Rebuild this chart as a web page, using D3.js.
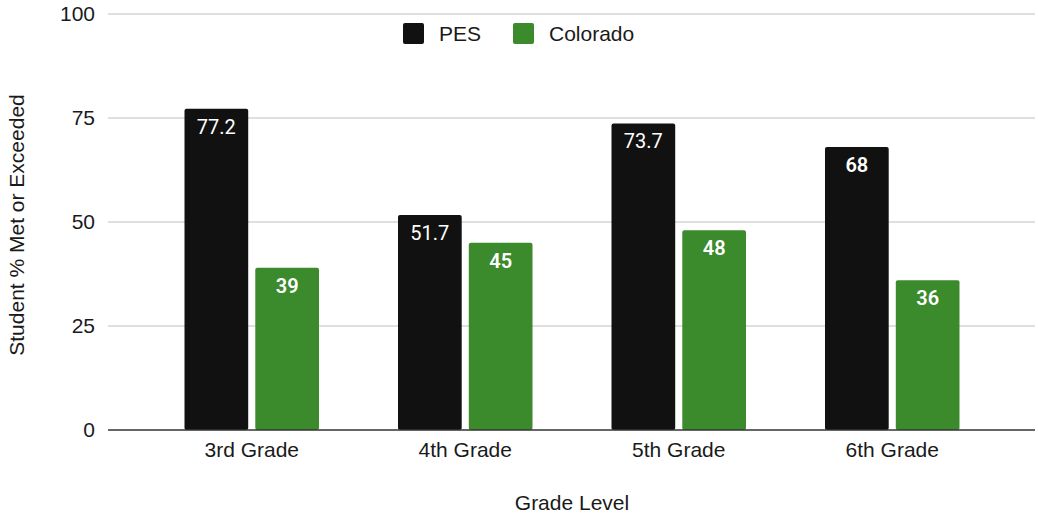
<!DOCTYPE html>
<html>
<head>
<meta charset="utf-8">
<script src="https://cdn.jsdelivr.net/npm/d3@7"></script>
<style>
  body { margin: 0; background: #fff; }
  text { font-family: "Liberation Sans", Arial, sans-serif; }
</style>
</head>
<body>
<script>
// data
const grades = ["3rd Grade", "4th Grade", "5th Grade", "6th Grade"];
const seriesNames = ["PES", "Colorado"];
const pesValues = [77.2, 51.7, 73.7, 68];
const coloradoValues = [39, 45, 48, 36];
const yTicks = [0, 25, 50, 75, 100];

const colors = { PES: "#111111", Colorado: "#3b8a2c" };

const width = 1038, height = 516;
const axisFont = 21;

const svg = d3.select("body").append("svg")
  .attr("width", width)
  .attr("height", height);

// scales
const y = d3.scaleLinear().domain([0, 100]).range([430, 14]);
const x = d3.scaleBand().domain(grades).range([145, 999]).paddingInner(0.37).paddingOuter(0.185);
const xs = d3.scaleBand().domain(seriesNames).range([0, x.bandwidth()]).paddingInner(0.1);

// gridlines
svg.append("g").selectAll("line")
  .data(yTicks.filter(d => d > 0)).enter()
  .append("line")
  .attr("x1", 108).attr("x2", 1035)
  .attr("y1", d => y(d)).attr("y2", d => y(d))
  .attr("stroke", "#d4d4d4")
  .attr("stroke-width", 1.5);

// y tick labels
svg.append("g").selectAll("text")
  .data(yTicks).enter()
  .append("text")
  .attr("x", 95)
  .attr("y", d => y(d))
  .attr("dy", "0.35em")
  .attr("text-anchor", "end")
  .attr("font-size", axisFont)
  .attr("fill", "#1a1a1a")
  .text(d => d);

// bars
const table = grades.map((g, i) => ({ grade: g, PES: pesValues[i], Colorado: coloradoValues[i] }));

const groups = svg.append("g").selectAll("g")
  .data(table).enter()
  .append("g")
  .attr("transform", d => `translate(${x(d.grade)},0)`);

const cells = groups.selectAll("g")
  .data(d => seriesNames.map(s => ({ key: s, value: d[s] }))).enter()
  .append("g");

cells.append("rect")
  .attr("x", d => xs(d.key))
  .attr("y", d => y(d.value))
  .attr("width", xs.bandwidth())
  .attr("height", d => y(0) - y(d.value))
  .attr("rx", 2)
  .attr("fill", d => colors[d.key]);

cells.append("text")
  .attr("x", d => xs(d.key) + xs.bandwidth() / 2)
  .attr("y", d => y(d.value) + 25)
  .attr("text-anchor", "middle")
  .attr("font-size", 20)
  .attr("font-weight", d => (d.key === "Colorado" || Number.isInteger(d.value)) ? 600 : 400)
  .attr("fill", "#fff")
  .style("font-family", "Roboto, sans-serif")
  .text(d => d.value);

// baseline
svg.append("line")
  .attr("x1", 108).attr("x2", 1035)
  .attr("y1", y(0)).attr("y2", y(0))
  .attr("stroke", "#333")
  .attr("stroke-width", 1.5);

// x axis labels
const xAxis = d3.axisBottom(x).tickSize(0).tickPadding(12);
const gx = svg.append("g").attr("transform", `translate(0,${y(0)})`).call(xAxis);
gx.select(".domain").remove();
gx.selectAll("text")
  .attr("font-size", axisFont)
  .attr("fill", "#1a1a1a")
  .style("font-family", "'Liberation Sans', Arial, sans-serif");

// axis titles
svg.append("text")
  .attr("x", 572).attr("y", 510)
  .attr("text-anchor", "middle")
  .attr("font-size", axisFont)
  .attr("fill", "#1a1a1a")
  .text("Grade Level");

svg.append("text")
  .attr("transform", "translate(24,225) rotate(-90)")
  .attr("text-anchor", "middle")
  .attr("font-size", axisFont)
  .attr("fill", "#1a1a1a")
  .text("Student % Met or Exceeded");

// legend
const legendX = [403, 513];
const legend = svg.append("g").selectAll("g")
  .data(seriesNames).enter()
  .append("g")
  .attr("transform", (d, i) => `translate(${legendX[i]},23)`);

legend.append("rect")
  .attr("width", 21).attr("height", 21)
  .attr("rx", 2)
  .attr("fill", d => colors[d]);

legend.append("text")
  .attr("x", 36).attr("y", 11)
  .attr("dy", "0.35em")
  .attr("font-size", axisFont)
  .attr("fill", "#1a1a1a")
  .text(d => d);
</script>
</body>
</html>
